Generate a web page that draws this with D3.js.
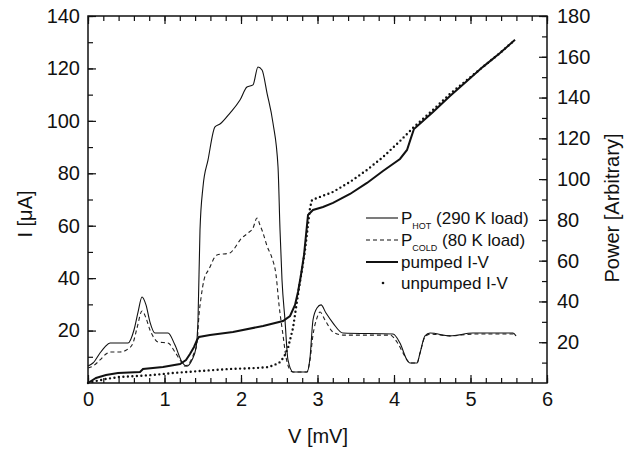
<!DOCTYPE html>
<html>
<head>
<meta charset="utf-8">
<script src="https://cdn.jsdelivr.net/npm/d3@7"></script>
<style>
  body { margin: 0; background: #fff; }
  text { font-family: "Liberation Sans", Arial, sans-serif; fill: #111; }
</style>
</head>
<body>
<svg id="chart" width="627" height="449"></svg>
<script>
// P_HOT curve (right axis, arbitrary power)
const vHot = [0, 0.065, 0.157, 0.222, 0.288, 0.523, 0.601, 0.654, 0.706, 0.758, 0.81, 0.876, 1.046, 1.137, 1.229, 1.294, 1.359, 1.412, 1.438, 1.464, 1.503, 1.569, 1.66, 1.725, 1.856, 1.987, 2.078, 2.157, 2.222, 2.275, 2.34, 2.418, 2.484, 2.51, 2.536, 2.575, 2.614, 2.68, 2.863, 2.902, 2.941, 2.993, 3.046, 3.111, 3.203, 3.333, 3.987, 4.078, 4.17, 4.209, 4.301, 4.34, 4.405, 4.471, 4.732, 5.033, 5.556, 5.595];
const pHot = [8.3, 9.8, 14.7, 17.7, 19.6, 19.6, 26, 34.8, 42.2, 38.3, 29.9, 24.5, 24.5, 18.6, 10.3, 8.3, 11.3, 17.2, 30.9, 75, 96.1, 109.4, 125.6, 127, 132.4, 138.8, 145.2, 146.2, 155, 153.5, 142.2, 127.5, 105.9, 75, 50.5, 30.9, 11.3, 5.4, 5.4, 12.3, 30.9, 36.8, 38.3, 34.3, 29.4, 24.5, 24, 19.6, 11.3, 9.8, 9.8, 14.7, 23.1, 24.5, 23.1, 24.5, 24.5, 23.1];

// P_COLD curve (right axis)
const vCold = [0, 0.065, 0.157, 0.235, 0.288, 0.418, 0.523, 0.588, 0.641, 0.706, 0.758, 0.81, 0.863, 0.915, 1.046, 1.137, 1.203, 1.268, 1.333, 1.386, 1.425, 1.451, 1.477, 1.516, 1.582, 1.686, 1.856, 1.908, 1.987, 2.092, 2.157, 2.209, 2.248, 2.288, 2.34, 2.405, 2.458, 2.497, 2.549, 2.588, 2.627, 2.68, 2.863, 2.902, 2.941, 2.993, 3.033, 3.098, 3.203, 3.333, 3.948, 4.039, 4.118, 4.17, 4.209, 4.301, 4.34, 4.405, 4.471, 4.732, 5.033, 5.556, 5.595];
const pCold = [7.4, 8.3, 11.3, 14.2, 15.2, 15.2, 16.7, 19.6, 27, 35.3, 31.9, 26, 22.1, 20.1, 19.6, 15.2, 11.3, 8.3, 10.3, 14.7, 19.6, 33.4, 41.7, 50.5, 55.9, 62.8, 63.8, 65.7, 70.1, 73.6, 76, 80.9, 77.5, 73.6, 67.2, 61.3, 53, 38.3, 23.5, 12.8, 7.4, 5.4, 5.4, 11.3, 23.5, 31.9, 34.8, 30.9, 25, 23.5, 23.5, 20.1, 14.7, 11.3, 9.8, 9.8, 14.7, 22.6, 24, 23.1, 24, 24, 23.1];

// pumped I-V (left axis, uA)
const vPumped = [0, 0.105, 0.235, 0.392, 0.68, 0.719, 0.98, 1.203, 1.281, 1.333, 1.386, 1.425, 1.451, 1.595, 1.895, 2.288, 2.549, 2.641, 2.706, 2.745, 2.784, 2.824, 2.85, 2.876, 2.941, 3.072, 3.203, 3.425, 3.647, 3.856, 4.078, 4.17, 4.222, 4.261, 4.51, 4.732, 4.954, 5.163, 5.386, 5.582];
const iPumped = [0, 1.91, 3.05, 3.82, 4.2, 5.34, 6.1, 7.25, 8.78, 11.06, 13.74, 16.41, 17.55, 18.31, 19.46, 21.75, 23.66, 25.56, 29.76, 34.72, 41.21, 48.84, 56.47, 64.1, 66, 67.15, 68.68, 72.11, 76.31, 80.89, 85.46, 88.9, 93.5, 96.9, 103.4, 109.5, 115.2, 120.6, 125.9, 130.9];

// unpumped I-V (left axis, uA)
const vUnpumped = [0, 0.105, 0.235, 0.405, 0.627, 0.85, 1.111, 1.464, 1.843, 2.196, 2.366, 2.497, 2.562, 2.614, 2.68, 2.719, 2.758, 2.797, 2.837, 2.876, 2.902, 2.928, 3.033, 3.203, 3.425, 3.647, 3.856, 4.078, 4.248, 4.51, 4.732, 4.954, 5.163, 5.386, 5.582];
const iUnpumped = [0, 0.76, 1.53, 2.29, 2.67, 3.05, 3.82, 4.58, 5.34, 5.72, 6.1, 7.63, 9.92, 13.35, 20.98, 28.6, 36.2, 43.1, 50.7, 60.3, 66.8, 69.8, 71, 72.9, 76.7, 81.3, 86.2, 92.3, 97.3, 104.2, 110.3, 115.6, 120.6, 125.9, 130.9];

// ticks
const xTicks = [0, 1, 2, 3, 4, 5, 6];
const leftTicks = [20, 40, 60, 80, 100, 120, 140];
const rightTicks = [20, 40, 60, 80, 100, 120, 140, 160, 180];

const svg = d3.select("#chart");
const plot = {left: 88, right: 547, top: 16, bottom: 383};

const x = d3.scaleLinear().domain([0, 6]).range([plot.left, plot.right]);
const yL = d3.scaleLinear().domain([0, 140]).range([plot.bottom, plot.top]);
const yR = d3.scaleLinear().domain([0, 180]).range([plot.bottom, plot.top]);

const fontSize = "20px";

// minor ticks first (no labels)
function minor(axis, values, transform){
    svg.append("g")
        .attr("transform", transform)
        .call(axis.tickValues(values).tickSize(-5).tickFormat(""))
        .call(g => g.select(".domain").remove());
}
minor(d3.axisBottom(x), d3.range(0, 6.01, 0.2), `translate(0,${plot.bottom})`);
minor(d3.axisTop(x), d3.range(0, 6.01, 0.2), `translate(0,${plot.top})`);
minor(d3.axisLeft(yL), d3.range(10, 141, 10), `translate(${plot.left},0)`);
minor(d3.axisRight(yR), d3.range(10, 181, 10), `translate(${plot.right},0)`);

// major ticks with labels
svg.append("g")
    .attr("transform", `translate(0,${plot.bottom})`)
    .call(d3.axisBottom(x).tickValues(xTicks).tickSize(-8).tickPadding(9).tickFormat(d3.format("d")))
    .call(g => g.select(".domain").remove());
svg.append("g")
    .attr("transform", `translate(0,${plot.top})`)
    .call(d3.axisTop(x).tickValues(xTicks).tickSize(-8).tickFormat(""))
    .call(g => g.select(".domain").remove());
svg.append("g")
    .attr("transform", `translate(${plot.left},0)`)
    .call(d3.axisLeft(yL).tickValues(leftTicks).tickSize(-8).tickPadding(8))
    .call(g => g.select(".domain").remove());
svg.append("g")
    .attr("transform", `translate(${plot.right},0)`)
    .call(d3.axisRight(yR).tickValues(rightTicks).tickSize(-8).tickPadding(10))
    .call(g => g.select(".domain").remove());

svg.selectAll(".tick line").attr("stroke", "#111").attr("stroke-width", 1.2);
svg.selectAll(".tick text").style("font-size", fontSize).style("font-family", "Liberation Sans, Arial, sans-serif").attr("fill", "#111");

// frame
svg.append("rect")
    .attr("x", plot.left).attr("y", plot.top)
    .attr("width", plot.right - plot.left).attr("height", plot.bottom - plot.top)
    .attr("fill", "none").attr("stroke", "#111").attr("stroke-width", 1.5);

// curves
const lineR = d3.line().x(d => x(d[0])).y(d => yR(d[1])).curve(d3.curveMonotoneX);
const lineL = d3.line().x(d => x(d[0])).y(d => yL(d[1]));

svg.append("path")
    .attr("d", lineR(d3.zip(vCold, pCold)))
    .attr("fill", "none").attr("stroke", "#222").attr("stroke-width", 1.1)
    .attr("stroke-dasharray", "4,3");
svg.append("path")
    .attr("d", lineR(d3.zip(vHot, pHot)))
    .attr("fill", "none").attr("stroke", "#111").attr("stroke-width", 1.1);
svg.append("path")
    .attr("d", lineL(d3.zip(vUnpumped, iUnpumped)))
    .attr("fill", "none").attr("stroke", "#111").attr("stroke-width", 2.4)
    .attr("stroke-linecap", "round").attr("stroke-dasharray", "0,4.5");
svg.append("path")
    .attr("d", lineL(d3.zip(vPumped, iPumped)))
    .attr("fill", "none").attr("stroke", "#111").attr("stroke-width", 2);

// axis titles
svg.append("text")
    .attr("x", 318).attr("y", 443)
    .attr("text-anchor", "middle").style("font-size", fontSize)
    .text("V [mV]");
svg.append("text")
    .attr("transform", "translate(32,214) rotate(-90)")
    .attr("text-anchor", "middle").style("font-size", fontSize)
    .text("I [\u03bcA]");
svg.append("text")
    .attr("transform", "translate(619,208) rotate(-90)")
    .attr("text-anchor", "middle").style("font-size", fontSize)
    .text("Power [Arbitrary]");

// legend
const legend = svg.append("g");
const rows = [
    {y: 218, main: "P", sub: "HOT", rest: " (290 K load)", kind: "thin"},
    {y: 240, main: "P", sub: "COLD", rest: " (80 K load)", kind: "dash"},
    {y: 262, main: "pumped I-V", sub: "", rest: "", kind: "thick"},
    {y: 283, main: "unpumped I-V", sub: "", rest: "", kind: "dot"}
];
rows.forEach(r => {
    if(r.kind == "dot"){
        legend.append("circle").attr("cx", 383).attr("cy", r.y).attr("r", 1.3).attr("fill", "#111");
    }
    else{
        legend.append("line")
            .attr("x1", 366).attr("x2", 398).attr("y1", r.y).attr("y2", r.y)
            .attr("stroke", "#111")
            .attr("stroke-width", r.kind == "thick" ? 2 : 1.1)
            .attr("stroke-dasharray", r.kind == "dash" ? "4,3" : null);
    }
    const t = legend.append("text")
        .attr("x", 401).attr("y", r.y + 6)
        .style("font-size", "17px");
    t.append("tspan").text(r.main);
    if(r.sub != ""){
        t.append("tspan").attr("dy", 5).style("font-size", "9px").text(r.sub);
        t.append("tspan").attr("dy", -5).text(r.rest);
    }
});
</script>
</body>
</html>
